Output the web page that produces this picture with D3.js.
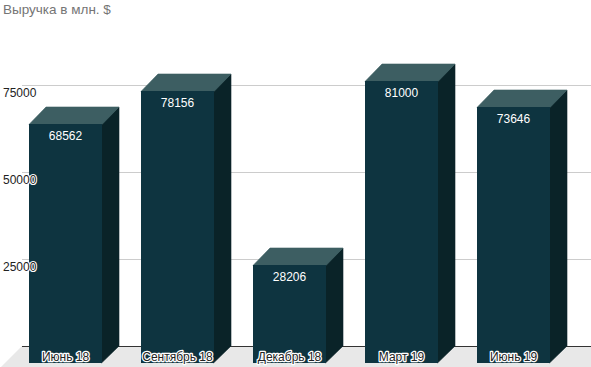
<!DOCTYPE html>
<html><head><meta charset="utf-8">
<script src="https://cdn.jsdelivr.net/npm/d3@7"></script>
<style>body{margin:0;background:#fff}svg{display:block}</style>
</head><body><svg id="c" width="591" height="367"></svg>
<script>
const categories = ["Июнь 18","Сентябрь 18","Декабрь 18","Март 19","Июнь 19"];
const revenue = [68562, 78156, 28206, 81000, 73646];
const yTicks = [25000, 50000, 75000];
const title = "Выручка в млн. $";

const W = 591, H = 367, depth = 17, baseY = 346;
const svg = d3.select("#c");
const font = "Arial, 'Liberation Sans', sans-serif";

const y = d3.scaleLinear().domain([0, 100000]).range([baseY, baseY - 348]);
const x = d3.scaleBand().domain(categories).range([10, 570]).paddingInner(0.348).paddingOuter(0.174);

// floor
svg.append("polygon")
  .attr("points", [[22, baseY],[W+30, baseY],[W+30, H+5],[22 - (H+5-baseY), H+5]].map(p=>p.join(",")).join(" "))
  .attr("fill", "#e8e8e8");

// grid lines (back plane)
svg.selectAll("line.grid").data(yTicks).join("line")
  .attr("x1", 22).attr("x2", W).attr("y1", d=>Math.round(y(d))+0.5).attr("y2", d=>Math.round(y(d))+0.5)
  .attr("stroke", "#cccccc").attr("stroke-width", 1);
svg.append("line").attr("x1", 22).attr("x2", W).attr("y1", baseY+0.5).attr("y2", baseY+0.5)
  .attr("stroke", "#333").attr("stroke-width", 1);

// bars
const g = svg.selectAll("g.bar").data(categories.map((c,i)=>({c, v: revenue[i]}))).join("g");
g.each(function(d){
  const s = d3.select(this);
  const x0 = Math.round(x(d.c)), bw = Math.round(x.bandwidth());
  const yt = Math.round(y(d.v)) + depth, yb = baseY + depth;
  // side
  s.append("polygon").attr("fill", "#0a2328").attr("stroke", "#0a2328").attr("stroke-width", 0.6)
    .attr("points", [[x0+bw-0.5, yt],[x0+bw+depth, yt-depth],[x0+bw+depth, yb-depth],[x0+bw-0.5, yb]].map(p=>p.join(",")).join(" "));
  // top
  s.append("polygon").attr("fill", "#3d5e62").attr("stroke", "#3d5e62").attr("stroke-width", 0.6)
    .attr("points", [[x0, yt+0.5],[x0+depth, yt-depth],[x0+bw+depth, yt-depth],[x0+bw, yt+0.5]].map(p=>p.join(",")).join(" "));
  // front
  s.append("rect").attr("x", x0).attr("y", yt).attr("width", bw).attr("height", yb - yt).attr("fill", "#0e3440");
  // value label
  s.append("text").attr("x", x0 + bw/2).attr("y", yt + 16).attr("text-anchor", "middle")
    .attr("font-family", font).attr("font-size", 12).attr("fill", "#ffffff").text(d.v);
  // category label
  s.append("text").attr("x", x0 + bw/2).attr("y", 361).attr("text-anchor", "middle")
    .attr("font-family", font).attr("font-size", 12).attr("fill", "#222")
    .attr("stroke", "#ffffff").attr("stroke-width", 2.5).attr("paint-order", "stroke")
    .attr("stroke-linejoin", "round").text(d.c);
});

// y tick labels
svg.selectAll("text.tick").data(yTicks).join("text")
  .attr("x", 3).attr("y", d=>y(d)+12)
  .attr("font-family", font).attr("font-size", 12).attr("fill", "#222")
  .attr("stroke", "#ffffff").attr("stroke-width", 2).attr("paint-order", "stroke")
  .text(d=>d);

// title
svg.append("text").attr("x", 3).attr("y", 14).attr("font-family", font).attr("font-size", 13.5)
  .attr("fill", "#757575").text(title);
</script></body></html>
